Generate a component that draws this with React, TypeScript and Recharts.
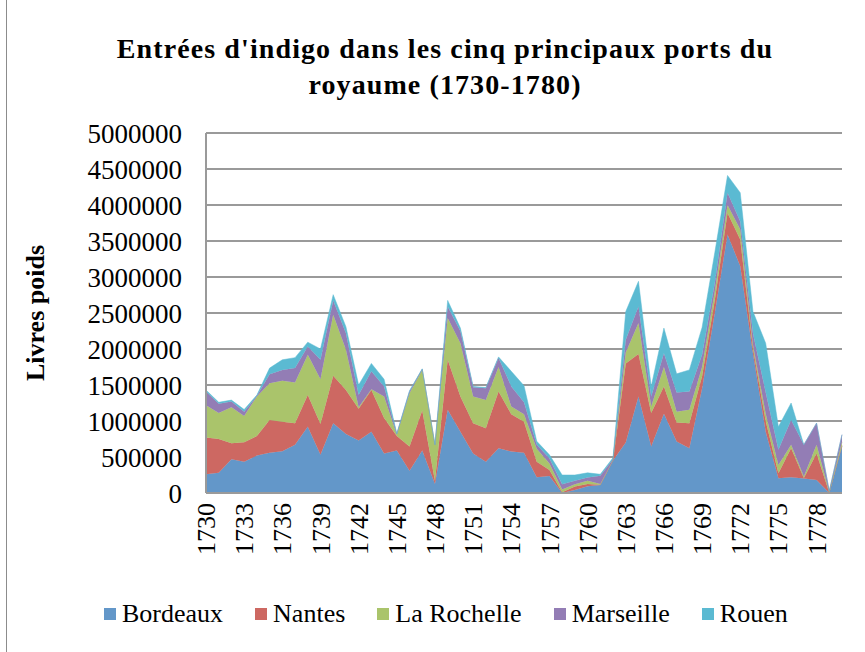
import { AreaChart, Area, XAxis, YAxis, CartesianGrid, Legend } from 'recharts';

const years = [
  1730, 1731, 1732, 1733, 1734, 1735, 1736, 1737, 1738, 1739,
  1740, 1741, 1742, 1743, 1744, 1745, 1746, 1747, 1748, 1749,
  1750, 1751, 1752, 1753, 1754, 1755, 1756, 1757, 1758, 1759,
  1760, 1761, 1762, 1763, 1764, 1765, 1766, 1767, 1768, 1769,
  1770, 1771, 1772, 1773, 1774, 1775, 1776, 1777, 1778, 1779,
  1780,
];

// livres poids
const bordeaux = [
  260000, 280000, 470000, 435000, 520000, 560000, 580000, 670000, 920000, 530000,
  970000, 820000, 730000, 850000, 550000, 590000, 310000, 590000, 125000, 1155000,
  850000, 550000, 435000, 620000, 575000, 560000, 220000, 235000, 0, 40000,
  95000, 110000, 450000, 700000, 1340000, 645000, 1100000, 715000, 620000, 1450000,
  2500000, 3590000, 3150000, 1940000, 850000, 205000, 220000, 200000, 180000, 0,
  650000,
];
const nantes = [
  510000, 470000, 220000, 270000, 270000, 455000, 410000, 300000, 440000, 430000,
  660000, 610000, 440000, 580000, 490000, 200000, 335000, 555000, 40000, 695000,
  490000, 420000, 465000, 790000, 520000, 430000, 215000, 85000, 10000, 50000,
  30000, 5000, 5000, 1100000, 590000, 465000, 380000, 265000, 350000, 170000,
  180000, 300000, 370000, 70000, 150000, 70000, 400000, 10000, 370000, 5000,
  10000,
];
const laRochelle = [
  450000, 360000, 500000, 365000, 550000, 510000, 570000, 565000, 560000, 620000,
  845000, 560000, 20000, 10000, 300000, 20000, 740000, 565000, 500000, 580000,
  740000, 370000, 390000, 340000, 105000, 105000, 180000, 90000, 40000, 30000,
  45000, 10000, 5000, 150000, 430000, 90000, 270000, 150000, 185000, 130000,
  120000, 110000, 140000, 50000, 100000, 115000, 50000, 20000, 120000, 10000,
  50000,
];
const marseille = [
  190000, 130000, 80000, 60000, 10000, 125000, 150000, 200000, 115000, 270000,
  200000, 230000, 170000, 250000, 140000, 10000, 25000, 10000, 5000, 160000,
  165000, 130000, 165000, 125000, 280000, 165000, 60000, 70000, 70000, 50000,
  45000, 115000, 10000, 180000, 230000, 140000, 190000, 265000, 255000, 170000,
  120000, 170000, 110000, 160000, 300000, 210000, 345000, 440000, 300000, 10000,
  100000,
];
const rouen = [
  20000, 20000, 20000, 30000, 10000, 85000, 140000, 145000, 60000, 150000,
  80000, 90000, 140000, 110000, 100000, 5000, 10000, 5000, 0, 85000,
  45000, 10000, 10000, 15000, 210000, 230000, 45000, 50000, 130000, 80000,
  65000, 20000, 20000, 390000, 350000, 140000, 350000, 260000, 300000, 380000,
  420000, 240000, 400000, 300000, 680000, 320000, 235000, 0, 0, 0,
  0,
];

const yTicks = [0, 500000, 1000000, 1500000, 2000000, 2500000, 3000000, 3500000, 4000000, 4500000, 5000000];

const series = [
  { key: 'Bordeaux', color: '#6397C9' },
  { key: 'Nantes', color: '#CD6862' },
  { key: 'La Rochelle', color: '#AAC46B' },
  { key: 'Marseille', color: '#937DB5' },
  { key: 'Rouen', color: '#5BBAD2' },
];

const data = years.map((year, i) => ({
  year,
  Bordeaux: bordeaux[i],
  Nantes: nantes[i],
  'La Rochelle': laRochelle[i],
  Marseille: marseille[i],
  Rouen: rouen[i],
}));

const FONT = '"Liberation Serif", "Times New Roman", serif';

function YearTick({ x, y, payload }: any) {
  return (
    <text
      x={x}
      y={y}
      transform={`rotate(-90, ${x}, ${y})`}
      textAnchor="end"
      dy="0.35em"
      fontSize={26}
      fontFamily={FONT}
      fill="#000"
    >
      {payload.value}
    </text>
  );
}

function LegendContent() {
  return (
    <div
      style={{
        display: 'flex',
        justifyContent: 'flex-start',
        paddingLeft: 104,
        fontFamily: FONT,
        fontSize: 26,
        color: '#000',
      }}
    >
      {series.map((s, i) => (
        <div
          key={s.key}
          style={{ display: 'flex', alignItems: 'center', marginRight: i < series.length - 1 ? 32 : 0 }}
        >
          <span style={{ width: 12, height: 12, background: s.color, marginRight: 6, display: 'inline-block' }} />
          <span>{s.key}</span>
        </div>
      ))}
    </div>
  );
}

export default function App() {
  return (
    <div style={{ position: 'absolute', left: 0, top: 0, width: 865, height: 652, background: '#fff' }}>
      <div style={{ position: 'absolute', left: 6, top: 0, width: 1, height: 652, background: '#8c8c8c' }} />
      <div
        style={{
          position: 'absolute',
          top: 31,
          left: 0,
          width: 890,
          textAlign: 'center',
          fontFamily: FONT,
          fontWeight: 'bold',
          fontSize: 28,
          letterSpacing: 1.1,
          lineHeight: '36px',
          color: '#000',
        }}
      >
        Entrées d'indigo dans les cinq principaux ports du
        <br />
        royaume (1730-1780)
      </div>
      <AreaChart
        width={865}
        height={652}
        data={data}
        margin={{ top: 133, right: 23, left: 0, bottom: 79 }}
        style={{ position: 'absolute', left: 0, top: 0 }}
      >
        <CartesianGrid vertical={false} stroke="#9a9a9a" strokeWidth={2} />
        <XAxis
          dataKey="year"
          interval={2}
          height={80}
          tickLine={false}
          tickSize={0}
          tickMargin={10}
          axisLine={{ stroke: '#9a9a9a', strokeWidth: 2 }}
          tick={<YearTick />}
        />
        <YAxis
          width={206}
          domain={[0, 5000000]}
          ticks={yTicks}
          interval={0}
          tickLine={false}
          tickSize={0}
          tickMargin={24}
          axisLine={{ stroke: '#9a9a9a', strokeWidth: 2 }}
          tick={{ fontSize: 27, fontFamily: FONT, fill: '#000' }}
          label={{
            value: 'Livres poids',
            angle: -90,
            position: 'center',
            dx: -68,
            style: { fontSize: 26, fontFamily: FONT, fontWeight: 'bold', fill: '#000' },
          }}
        />
        <Legend
          verticalAlign="middle"
          align="center"
          content={<LegendContent />}
          wrapperStyle={{ top: 599, left: 0, width: 865 }}
        />
        {series.map((s) => (
          <Area
            key={s.key}
            type="linear"
            dataKey={s.key}
            stackId="ports"
            stroke={s.color}
            strokeWidth={0.5}
            fill={s.color}
            fillOpacity={1}
            legendType="square"
            isAnimationActive={false}
          />
        ))}
      </AreaChart>
    </div>
  );
}
